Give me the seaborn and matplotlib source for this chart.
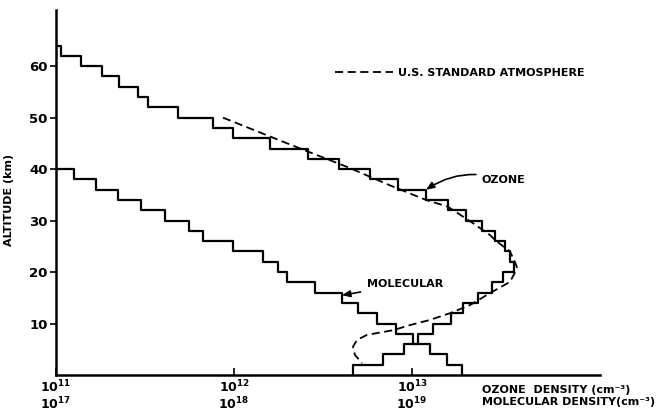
import matplotlib
matplotlib.use("Agg")
import matplotlib.pyplot as plt
from matplotlib.lines import Line2D
import numpy as np
import pandas as pd
import seaborn as sns

# ---------------- data ----------------
layer_thickness_km = 2.0

ozone_layer_bottom_km = [64, 62, 60, 58, 56, 54, 52, 50, 48, 46, 44, 42, 40, 38, 36, 34,
                         32, 30, 28, 26, 24, 22, 20, 18, 16, 14, 12, 10, 8, 6, 4, 2, 0]
ozone_density = [8.0e10, 1.07e11, 1.38e11, 1.81e11, 2.26e11, 2.89e11, 3.29e11, 4.85e11,
                 7.59e11, 9.87e11, 1.59e12, 2.60e12, 3.89e12, 5.81e12, 8.34e12, 1.20e13,
                 1.59e13, 2.01e13, 2.47e13, 2.93e13, 3.33e13, 3.55e13, 3.74e13, 3.24e13,
                 2.80e13, 2.35e13, 1.93e13, 1.65e13, 1.32e13, 1.08e13, 9.02e12, 6.90e12,
                 4.64e12]

molecular_layer_bottom_km = [40, 38, 36, 34, 32, 30, 28, 26, 24, 22, 20, 18, 16, 14, 12,
                             10, 8, 6, 4, 2, 0]
molecular_density = [8.0e16, 1.27e17, 1.67e17, 2.22e17, 3.00e17, 4.10e17, 5.59e17,
                     6.72e17, 9.91e17, 1.45e18, 1.77e18, 1.99e18, 2.85e18, 4.04e18,
                     4.97e18, 6.36e18, 8.13e18, 1.01e19, 1.26e19, 1.57e19, 1.90e19]

std_alt_km = [50, 45, 40.2, 37, 34, 32.7, 29.5, 27.2, 26.2, 24, 22, 21, 20, 18.1, 15.9,
              13.6, 12, 10.7, 9.7, 8.7, 7.8, 6.8, 5.5, 3.9, 2.3]
std_ozone_density = [8.67e11, 1.99e12, 4.48e12, 7.33e12, 1.20e13, 1.59e13, 2.20e13,
                     2.74e13, 2.93e13, 3.55e13, 3.78e13, 3.88e13, 3.80e13, 3.55e13,
                     2.74e13, 2.12e13, 1.63e13, 1.26e13, 9.75e12, 7.82e12, 5.58e12,
                     4.91e12, 4.66e12, 4.78e12, 5.24e12]

# molecular density axis is offset by six decades from the ozone axis
molecular_axis_shift = 1e6
xtick_ozone_exp = [11, 12, 13]
xtick_mol_exp = [17, 18, 19]
ytick_values = [10, 20, 30, 40, 50, 60]


def staircase(bottoms, values, thickness):
    xs, ys = [], []
    for b, v in zip(bottoms, values):
        xs += [v, v]
        ys += [b + thickness, b]
    return pd.DataFrame({"density": xs, "altitude": ys})


oz_df = staircase(ozone_layer_bottom_km, ozone_density, layer_thickness_km)
mol_df = staircase(molecular_layer_bottom_km,
                   [d / molecular_axis_shift for d in molecular_density],
                   layer_thickness_km)
std_df = pd.DataFrame({"density": std_ozone_density, "altitude": std_alt_km})

# ---------------- figure ----------------
sns.set_style("white")
plt.rcParams["font.family"] = ["DejaVu Sans"]
plt.rcParams["mathtext.default"] = "regular"
for key in ["text.color", "axes.labelcolor", "xtick.color", "ytick.color", "axes.edgecolor"]:
    plt.rcParams[key] = "black"

fig = plt.figure(figsize=(6.68, 4.2), dpi=100)
ax = fig.add_axes([0.0838, 0.1071, 0.8144, 0.869])

dash = (0, (4.5, 2.5))
sns.lineplot(data=std_df, x="density", y="altitude", sort=False, estimator=None,
             color="black", lw=1.3, linestyle="--", ax=ax)
ax.lines[-1].set_linestyle(dash)
sns.lineplot(data=oz_df, x="density", y="altitude", sort=False, estimator=None,
             color="black", lw=1.6, ax=ax)
sns.lineplot(data=mol_df, x="density", y="altitude", sort=False, estimator=None,
             color="black", lw=1.6, ax=ax)

ax.set_xscale("log")
ax.set_xlim(1e11, 10 ** 14.056)
ax.set_ylim(0, 70.9)

for s in ["top", "right"]:
    ax.spines[s].set_visible(False)
for s in ["left", "bottom"]:
    ax.spines[s].set_linewidth(1.8)
    ax.spines[s].set_color("black")

ax.set_xticks([10.0 ** e for e in xtick_ozone_exp])
ax.set_xticklabels([f"$10^{{{a}}}$\n$10^{{{b}}}$" for a, b in zip(xtick_ozone_exp, xtick_mol_exp)],
                   fontsize=9, fontweight="bold", linespacing=1.0, color="black")
ax.xaxis.set_minor_locator(matplotlib.ticker.NullLocator())
ax.tick_params(axis="x", direction="in", length=5, width=1.2, pad=3, bottom=True,
               colors="black")
ax.set_yticks(ytick_values)
ax.set_yticklabels([str(v) for v in ytick_values], fontsize=9.5, fontweight="bold",
                   color="black")
ax.tick_params(axis="y", direction="out", length=4, width=1.2, pad=2, left=True,
               colors="black")

ax.set_xlabel("")
ax.set_ylabel("ALTITUDE (km)", fontsize=8, fontweight="bold", color="black")
ax.yaxis.set_label_coords(-0.078, 0.48)

ax.text(0.7825, -0.041, "OZONE  DENSITY (cm⁻³)", transform=ax.transAxes,
        fontsize=8, fontweight="bold", va="center", ha="left", color="black")
ax.text(0.7825, -0.074, "MOLECULAR DENSITY(cm⁻³)", transform=ax.transAxes,
        fontsize=8, fontweight="bold", va="center", ha="left", color="black")

# legend
handle = Line2D([], [], color="black", lw=1.3, linestyle=dash)
leg = ax.legend([handle], ["U.S. STANDARD ATMOSPHERE"], loc="center left",
                bbox_to_anchor=(0.513, 0.828), frameon=False, handlelength=5.2,
                handletextpad=0.5, borderaxespad=0, borderpad=0,
                prop={"size": 8, "weight": "bold"})
for t in leg.get_texts():
    t.set_color("black")

# annotations
i_oz = ozone_layer_bottom_km.index(34)
ax.annotate("OZONE", xy=(ozone_density[i_oz], 34 + layer_thickness_km),
            xytext=(2.47e13, 37.9), fontsize=8, fontweight="bold", va="center", ha="left",
            color="black",
            arrowprops=dict(arrowstyle="-|>,head_length=0.6,head_width=0.25", color="black",
                            lw=1.2, connectionstyle="arc3,rad=0.25", shrinkA=2, shrinkB=0))
i_mol = molecular_layer_bottom_km.index(14)
ax.annotate("MOLECULAR", xy=(molecular_density[i_mol] / molecular_axis_shift, 15.5),
            xytext=(5.56e12, 17.6), fontsize=8, fontweight="bold", va="center", ha="left",
            color="black",
            arrowprops=dict(arrowstyle="-|>,head_length=0.6,head_width=0.25", color="black",
                            lw=1.2, shrinkA=2, shrinkB=0))

fig.savefig("out.png", dpi=100)
